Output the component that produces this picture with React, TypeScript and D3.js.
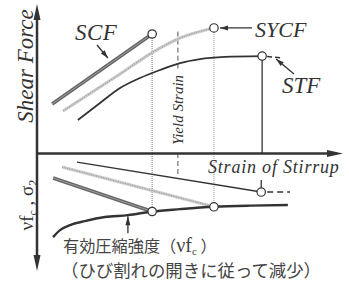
import React from "react";
import * as d3 from "d3";

// x: strain of stirrup (arbitrary units); upper y: shear force; lower y: stress (downward)
const scfX = [0.5, 3.8];
const scfY = [3.31, 8.04];

const sycfX = [0.86, 2.74, 3.83, 4.72, 5.84];
const sycfY = [2.84, 5.34, 6.82, 7.77, 8.45];

const stfX = [1.35, 2.08, 2.74, 3.4, 4.06, 4.72, 5.38, 6.2, 7.43];
const stfY = [2.23, 3.38, 4.39, 5.07, 5.61, 6.08, 6.35, 6.49, 6.55];
const stfExtX = [7.43, 8.09];
const stfExtY = [6.55, 6.42];

// lower part (compressive stress sigma2 and effective strength)
const stfStressX = [1.32, 7.4];
const stfStressY = [0.62, 2.67];
const stfStressExtX = [7.4, 8.35];
const stfStressExtY = [2.67, 2.67];

const sycfStressX = [0.83, 5.84];
const sycfStressY = [0.96, 3.68];

const scfStressX = [0.53, 3.8];
const scfStressY = [1.71, 4.0];

const effX = [0.53, 0.76, 1.09, 1.58, 2.24, 3.0, 3.8, 4.72, 5.84, 7.03, 8.28];
const effY = [5.75, 5.27, 4.93, 4.66, 4.38, 4.25, 4.0, 3.84, 3.68, 3.6, 3.56];

const yieldStrain = 4.65;

const W = 349;
const H = 285;

export default function App() {
  const x = d3.scaleLinear().domain([0, 10]).range([37, 340]);
  const yUp = d3.scaleLinear().domain([0, 10]).range([153, 5]);
  const yDn = d3.scaleLinear().domain([0, 8]).range([153, 270]);

  const lineUp = (xs: number[], ys: number[], curve: any = d3.curveLinear) =>
    d3
      .line<number>()
      .x((_, i) => x(xs[i]))
      .y((d) => yUp(d))
      .curve(curve)(ys) as string;
  const lineDn = (xs: number[], ys: number[], curve: any = d3.curveLinear) =>
    d3
      .line<number>()
      .x((_, i) => x(xs[i]))
      .y((d) => yDn(d))
      .curve(curve)(ys) as string;

  const dark = "#333";
  const serifIt: React.CSSProperties = { fontFamily: "Liberation Serif", fontStyle: "italic" };
  const serifUp: React.CSSProperties = { fontFamily: "Liberation Serif", fontStyle: "normal" };
  const jp: React.CSSProperties = { fontFamily: "Noto Sans CJK JP" };

  const arrowHead = (x1: number, y1: number, x2: number, y2: number, len = 8, wid = 3) => {
    const a = Math.atan2(y2 - y1, x2 - x1);
    const bx = x2 - len * Math.cos(a);
    const by = y2 - len * Math.sin(a);
    const px = -Math.sin(a) * wid;
    const py = Math.cos(a) * wid;
    return `M${x2},${y2}L${bx + px},${by + py}L${bx - px},${by - py}Z`;
  };

  const Arrow = ({ x1, y1, x2, y2, len = 8, wid = 2.5, w = 1.3 }: any) => (
    <g>
      <line x1={x1} y1={y1} x2={x2} y2={y2} stroke={dark} strokeWidth={w} />
      <path d={arrowHead(x1, y1, x2, y2, len, wid)} fill={dark} />
    </g>
  );

  const scfEnd = [x(scfX[1]), yUp(scfY[1])];
  const sycfEnd = [x(sycfX[4]), yUp(sycfY[4])];
  const stfEnd = [x(stfX[8]), yUp(stfY[8])];
  const scfLow = [x(scfStressX[1]), yDn(scfStressY[1])];
  const sycfLow = [x(sycfStressX[1]), yDn(sycfStressY[1])];
  const stfLow = [x(stfStressX[1]), yDn(stfStressY[1])];

  return (
    <svg
      width={W}
      height={H}
      style={{ position: "absolute", left: 0, top: 0, background: "#fff" }}
    >
      <rect width={W} height={H} fill="#fff" />
      {/* vertical guide lines */}
      <line x1={scfEnd[0]} y1={scfEnd[1] + 4} x2={scfLow[0]} y2={scfLow[1] - 4} stroke="#777" strokeWidth={1} strokeDasharray="1 1" />
      <line x1={sycfEnd[0]} y1={sycfEnd[1] + 4} x2={sycfLow[0]} y2={sycfLow[1] - 4} stroke="#999" strokeWidth={1} strokeDasharray="1 1" />
      <line x1={stfEnd[0]} y1={stfEnd[1] + 4} x2={stfEnd[0]} y2={yUp(0)} stroke={dark} strokeWidth={1.3} />
      <line x1={x(yieldStrain)} y1={yUp(8.2)} x2={x(yieldStrain)} y2={yUp(5.6)} stroke="#555" strokeWidth={1} strokeDasharray="5 3" />
      <line x1={x(yieldStrain)} y1={yDn(0)} x2={x(yieldStrain)} y2={yDn(1.6)} stroke="#555" strokeWidth={1} strokeDasharray="5 3" />

      {/* axes */}
      <line x1={37} y1={262} x2={37} y2={14} stroke={dark} strokeWidth={2.5} />
      <path d={arrowHead(37, 30, 37, 4, 16, 3.5)} fill={dark} />
      <path d={arrowHead(37, 240, 37, 271, 16, 3.5)} fill={dark} />
      <line x1={37} y1={153.5} x2={330} y2={153.5} stroke={dark} strokeWidth={2.5} />
      <path d={arrowHead(300, 153.5, 343, 153.5, 16, 3.5)} fill={dark} />

      {/* SCF */}
      <path d={lineUp(scfX, scfY)} fill="none" stroke="#666" strokeWidth={3.5} />
      <path d={lineUp(scfX, scfY)} fill="none" stroke="#aaa" strokeWidth={0.8} />
      {/* SYCF */}
      <path d={lineUp(sycfX, sycfY, d3.curveMonotoneX)} fill="none" stroke="#ccc" strokeWidth={3.2} />
      <path d={lineUp(sycfX, sycfY, d3.curveMonotoneX)} fill="none" stroke="#999" strokeWidth={1.2} strokeDasharray="1 1.5" />
      {/* STF */}
      <path d={lineUp(stfX, stfY, d3.curveMonotoneX)} fill="none" stroke={dark} strokeWidth={1.8} />
      <path d={lineUp(stfExtX, stfExtY)} fill="none" stroke={dark} strokeWidth={1.5} strokeDasharray="5 3" strokeDashoffset={-5} />

      {/* lower lines */}
      <path d={lineDn(stfStressX, stfStressY)} fill="none" stroke={dark} strokeWidth={1.4} />
      <path d={lineDn(stfStressExtX, stfStressExtY)} fill="none" stroke={dark} strokeWidth={1.4} strokeDasharray="6 4" strokeDashoffset={-6} />
      <line x1={stfLow[0]} y1={yDn(1.85)} x2={stfLow[0]} y2={stfLow[1] - 4} stroke={dark} strokeWidth={1.3} />
      <path d={lineDn(sycfStressX, sycfStressY)} fill="none" stroke="#ccc" strokeWidth={3.2} />
      <path d={lineDn(sycfStressX, sycfStressY)} fill="none" stroke="#999" strokeWidth={1.2} strokeDasharray="1 1.5" />
      <path d={lineDn(scfStressX, scfStressY)} fill="none" stroke="#666" strokeWidth={3.5} />
      <path d={lineDn(scfStressX, scfStressY)} fill="none" stroke="#aaa" strokeWidth={0.8} />
      <path d={lineDn(effX, effY, d3.curveMonotoneX)} fill="none" stroke={dark} strokeWidth={2.4} />

      {/* circles */}
      {[scfEnd, sycfEnd, stfEnd, scfLow, sycfLow, stfLow].map((p, i) => (
        <circle key={i} cx={p[0]} cy={p[1]} r={4.2} fill="#fff" stroke={dark} strokeWidth={1.2} />
      ))}

      {/* annotations */}
      <Arrow x1={x(1.98)} y1={yUp(7.3)} x2={x(2.34)} y2={yUp(6.42)} />
      <Arrow x1={x(7.1)} y1={yUp(8.45)} x2={x(6.04)} y2={yUp(8.45)} />
      <Arrow x1={x(8.48)} y1={yUp(5.34)} x2={x(7.89)} y2={yUp(6.35)} />
      <Arrow x1={x(3.0)} y1={yDn(5.48)} x2={x(3.0)} y2={yDn(4.32)} len={9} />

      <text x={75} y={40} fontSize={23} letterSpacing={0.5} fill={dark} style={serifIt}>SCF</text>
      <text x={255} y={37} fontSize={22} fill={dark} style={serifIt}>SYCF</text>
      <text x={282} y={93} fontSize={23} fill={dark} style={serifIt}>STF</text>
      <text x={208} y={173} fontSize={18} letterSpacing={0.8} fill={dark} style={serifIt}>Strain of Stirrup</text>
      <text transform="translate(183,110) rotate(-90)" textAnchor="middle" fontSize={15} fill={dark} style={serifIt}>Yield Strain</text>
      <text transform="translate(33,66) rotate(-90)" textAnchor="middle" fontSize={23} fill={dark} style={serifIt}>Shear Force</text>

      <text transform="translate(33,205) rotate(-90)" textAnchor="middle" fontSize={19} fill={dark} style={serifUp}>
        νf<tspan fontSize={12} dy={4}>c</tspan>
        <tspan dy={-4}> ,  σ</tspan>
        <tspan fontSize={12} dy={4}>2</tspan>
      </text>

      <text x={63} y={252} fontSize={16.2} fill="#444" style={jp}>
        有効圧縮強度（<tspan style={serifUp} fontSize={20}>νf</tspan>
        <tspan style={serifUp} fontSize={11} dy={3}>c</tspan>
        <tspan dy={-3}>  ）</tspan>
      </text>
      <text x={61} y={277} fontSize={17.4} fill="#444" style={jp}>（ひび割れの開きに従って減少）</text>
    </svg>
  );
}
